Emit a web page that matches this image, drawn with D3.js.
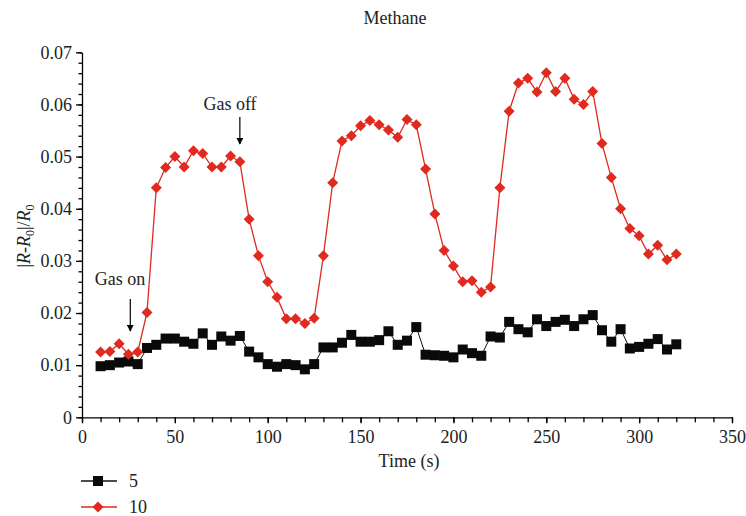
<!DOCTYPE html>
<html>
<head>
<meta charset="utf-8">
<script src="https://cdn.jsdelivr.net/npm/d3@7"></script>
<style>
  body { margin: 0; background: #fff; }
  svg { font-family: "Liberation Serif", "Times New Roman", serif; }
  .axis path, .axis line { stroke: #000; stroke-width: 1.3; }
  .axis text { font-size: 18px; fill: #222; font-family: "Liberation Serif", serif; }
</style>
</head>
<body>
<svg id="chart" width="746" height="516"></svg>
<script>
// time points (s), every 5 s from 10 to 320
var times = d3.range(10, 321, 5);

// series "5"
var series5 = [
  0.0098, 0.0100, 0.0105, 0.0107, 0.0102, 0.0133, 0.0139, 0.0151, 0.0151, 0.0145,
  0.0141, 0.0161, 0.0139, 0.0155, 0.0147, 0.0156, 0.0126, 0.0115, 0.0102, 0.0097,
  0.0102, 0.0100, 0.0092, 0.0102, 0.0134, 0.0134, 0.0143, 0.0158, 0.0145, 0.0145,
  0.0148, 0.0165, 0.0139, 0.0147, 0.0173, 0.0120, 0.0119, 0.0118, 0.0115, 0.0130,
  0.0123, 0.0118, 0.0155, 0.0153, 0.0183, 0.0169, 0.0163, 0.0188, 0.0175, 0.0183,
  0.0187, 0.0175, 0.0188, 0.0196, 0.0167, 0.0145, 0.0169, 0.0132, 0.0135, 0.0141,
  0.0150, 0.0130, 0.0140
];

// series "10"
var series10 = [
  0.0125, 0.0126, 0.0141, 0.0121, 0.0125, 0.0201, 0.0440, 0.0479, 0.0500, 0.0480,
  0.0511, 0.0506, 0.0480, 0.0480, 0.0501, 0.0490, 0.0380, 0.0310, 0.0260, 0.0230,
  0.0189, 0.0189, 0.0180, 0.0190, 0.0310, 0.0450, 0.0530, 0.0540, 0.0559, 0.0569,
  0.0561, 0.0551, 0.0537, 0.0571, 0.0561, 0.0476, 0.0390, 0.0320, 0.0290, 0.0260,
  0.0262, 0.0240, 0.0250, 0.0440, 0.0587, 0.0641, 0.0650, 0.0624, 0.0661, 0.0625,
  0.0650, 0.0610, 0.0600, 0.0625, 0.0525, 0.0460, 0.0400, 0.0362, 0.0348, 0.0313,
  0.0330, 0.0302, 0.0313
];

var xTicks = [0, 50, 100, 150, 200, 250, 300, 350];
var yTicks = [0, 0.01, 0.02, 0.03, 0.04, 0.05, 0.06, 0.07];

var svg = d3.select('#chart');
var padding = {t: 52, r: 14, b: 99, l: 82};
var svgWidth = +svg.attr('width');
var svgHeight = +svg.attr('height');

var xScale = d3.scaleLinear().domain([0, 350]).range([padding.l, 732]);
var yScale = d3.scaleLinear().domain([0, 0.07]).range([417.3, 52.3]);

// minor ticks
svg.append('g')
  .attr('class', 'axis')
  .attr('transform', 'translate(0,' + yScale(0) + ')')
  .call(d3.axisBottom(xScale).tickValues(d3.range(0, 351, 10)).tickSize(5).tickFormat(''))
  .select('.domain').remove();

svg.append('g')
  .attr('class', 'axis')
  .attr('transform', 'translate(' + xScale(0) + ',0)')
  .call(d3.axisLeft(yScale).tickValues(d3.range(0, 0.0701, 0.002)).tickSize(3.5).tickFormat(''))
  .select('.domain').remove();

// major ticks
svg.append('g')
  .attr('class', 'axis')
  .attr('transform', 'translate(0,' + yScale(0) + ')')
  .call(d3.axisBottom(xScale).tickValues(xTicks).tickSize(6).tickSizeOuter(0).tickPadding(7).tickFormat(d3.format('d')));

svg.append('g')
  .attr('class', 'axis')
  .attr('transform', 'translate(' + xScale(0) + ',0)')
  .call(d3.axisLeft(yScale).tickValues(yTicks).tickSize(6).tickSizeOuter(0).tickPadding(4)
    .tickFormat(function(d) { return d === 0 ? '0' : d3.format('.2f')(d); }));

// lines
var line5 = d3.line().x(function(d, i) { return xScale(times[i]); }).y(function(d) { return yScale(d); });

svg.append('path')
  .datum(series5)
  .attr('fill', 'none')
  .attr('stroke', '#111')
  .attr('stroke-width', 1)
  .attr('d', line5);

svg.append('path')
  .datum(series10)
  .attr('fill', 'none')
  .attr('stroke', '#e0291f')
  .attr('stroke-width', 1.3)
  .attr('d', line5);

// markers
svg.selectAll('.sq')
  .data(series5)
  .enter()
  .append('rect')
  .attr('class', 'sq')
  .attr('x', function(d, i) { return xScale(times[i]) - 5; })
  .attr('y', function(d) { return yScale(d) - 5; })
  .attr('width', 10)
  .attr('height', 10)
  .attr('fill', '#0a0a0a');

var diamond = d3.symbol().type(d3.symbolDiamond2).size(64);

svg.selectAll('.dm')
  .data(series10)
  .enter()
  .append('path')
  .attr('class', 'dm')
  .attr('d', 'M0,-5.5L5.5,0L0,5.5L-5.5,0Z')
  .attr('transform', function(d, i) { return 'translate(' + xScale(times[i]) + ',' + yScale(d) + ')'; })
  .attr('fill', '#e0291f');

// title
svg.append('text')
  .attr('x', 395)
  .attr('y', 24)
  .attr('text-anchor', 'middle')
  .attr('font-size', 18)
  .attr('fill', '#222')
  .text('Methane');

// axis labels
svg.append('text')
  .attr('x', 409)
  .attr('y', 467)
  .attr('text-anchor', 'middle')
  .attr('font-size', 18)
  .attr('fill', '#222')
  .text('Time (s)');

var yl = svg.append('text')
  .attr('transform', 'translate(30,236)rotate(-90)')
  .attr('text-anchor', 'middle')
  .attr('font-size', 18)
  .attr('fill', '#222');
yl.append('tspan').text('|');
yl.append('tspan').attr('font-style', 'italic').text('R');
yl.append('tspan').text('-');
yl.append('tspan').attr('font-style', 'italic').text('R');
yl.append('tspan').attr('font-size', 12).attr('dy', 4).text('0');
yl.append('tspan').attr('dy', -4).text('|/');
yl.append('tspan').attr('font-style', 'italic').text('R');
yl.append('tspan').attr('font-size', 12).attr('dy', 4).text('0');

// annotations
svg.append('defs').append('marker')
  .attr('id', 'arrow')
  .attr('viewBox', '0 0 10 10')
  .attr('refX', 9)
  .attr('refY', 5)
  .attr('markerWidth', 7)
  .attr('markerHeight', 7)
  .attr('markerUnits', 'userSpaceOnUse')
  .attr('orient', 'auto')
  .append('path')
  .attr('d', 'M0,0L10,5L0,10Z')
  .attr('fill', '#000');

var notes = [
  {text: 'Gas off', x: 85, tx: 230, ty: 110, y1: 117, y2: 144},
  {text: 'Gas on', x: 26, tx: 120, ty: 285, y1: 299, y2: 331}
];

notes.forEach(function(n) {
  var ax = xScale(n.x);
  svg.append('text')
    .attr('x', n.tx)
    .attr('y', n.ty)
    .attr('text-anchor', 'middle')
    .attr('font-size', 18)
    .attr('fill', '#222')
    .text(n.text);
  svg.append('line')
    .attr('x1', ax).attr('x2', ax)
    .attr('y1', n.y1).attr('y2', n.y2)
    .attr('stroke', '#000')
    .attr('stroke-width', 1.2)
    .attr('marker-end', 'url(#arrow)');
});

// legend
var legend = [
  {label: '5', color: '#111', shape: 'square', y: 481},
  {label: '10', color: '#e0291f', shape: 'diamond', y: 507}
];

legend.forEach(function(l) {
  svg.append('line')
    .attr('x1', 81).attr('x2', 117)
    .attr('y1', l.y).attr('y2', l.y)
    .attr('stroke', l.color)
    .attr('stroke-width', 1.3);
  if (l.shape === 'square') {
    svg.append('rect')
      .attr('x', 93).attr('y', l.y - 5)
      .attr('width', 10).attr('height', 10)
      .attr('fill', '#0a0a0a');
  } else {
    svg.append('path')
      .attr('d', 'M0,-5.5L5.5,0L0,5.5L-5.5,0Z')
      .attr('transform', 'translate(98,' + l.y + ')')
      .attr('fill', l.color);
  }
  svg.append('text')
    .attr('x', 129)
    .attr('y', l.y + 6)
    .attr('font-size', 18)
    .attr('fill', '#222')
    .text(l.label);
});
</script>
</body>
</html>
